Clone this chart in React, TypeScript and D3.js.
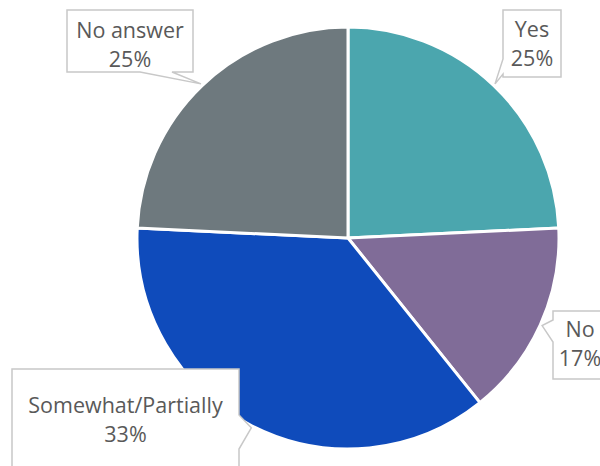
import React from "react";
import * as d3 from "d3";

const categories = ["Yes", "No", "Somewhat/Partially", "No answer"];
const sliceValues = [24.25, 15.0, 36.5, 24.25];
const percentLabels = ["25%", "17%", "33%", "25%"];
const colors = ["#4ba6ae", "#806c98", "#0f4bbb", "#6e797e"];

const W = 600;
const H = 466;
const CX = 348;
const CY = 238;
const R = 211;

// callout layout: box rect, pointer side and base span, text baselines
type Callout = {
  x: number; y: number; w: number; h: number;
  side: "left" | "right" | "bottom";
  b0: number; b1: number;
  tx: number; ty: number;
};
const callouts: Callout[] = [
  { x: 503, y: 10, w: 58, h: 67, side: "left", b0: 59, b1: 74, tx: 532, ty: 37 },
  { x: 553, y: 311, w: 56, h: 68, side: "left", b0: 320, b1: 342, tx: 580, ty: 337 },
  { x: 12, y: 369, w: 227, h: 110, side: "right", b0: 415, b1: 449, tx: 125.5, ty: 413 },
  { x: 67, y: 10, w: 126, h: 62, side: "bottom", b0: 140, b1: 172, tx: 130, ty: 38 },
];

function calloutPath(c: Callout, tip: [number, number]) {
  const x0 = c.x, y0 = c.y, x1 = c.x + c.w, y1 = c.y + c.h;
  const p = d3.path();
  p.moveTo(x0, y0);
  p.lineTo(x1, y0);
  if (c.side === "right") {
    p.lineTo(x1, c.b0);
    p.lineTo(tip[0], tip[1]);
    p.lineTo(x1, c.b1);
  }
  p.lineTo(x1, y1);
  if (c.side === "bottom") {
    p.lineTo(c.b1, y1);
    p.lineTo(tip[0], tip[1]);
    p.lineTo(c.b0, y1);
  }
  p.lineTo(x0, y1);
  if (c.side === "left") {
    p.lineTo(x0, c.b1);
    p.lineTo(tip[0], tip[1]);
    p.lineTo(x0, c.b0);
  }
  p.closePath();
  return p.toString();
}

export default function App() {
  const pie = d3.pie<number>().sort(null).value((d) => d);
  const arcs = pie(sliceValues);
  const arc = d3.arc<d3.PieArcDatum<number>>().innerRadius(0).outerRadius(R);

  return (
    <svg
      width={W}
      height={H}
      style={{ position: "absolute", left: 0, top: 0, background: "#fff" }}
      fontFamily="'Open Sans', sans-serif"
    >
      <g transform={`translate(${CX},${CY})`}>
        {arcs.map((a, i) => (
          <path key={i} d={arc(a) || ""} fill={colors[i]} stroke="#fff" strokeWidth={3} strokeLinejoin="round" />
        ))}
      </g>
      {arcs.map((a, i) => {
        const c = callouts[i];
        const mid = (a.startAngle + a.endAngle) / 2;
        const rr = R + 2;
        const tip: [number, number] = [CX + rr * Math.sin(mid), CY - rr * Math.cos(mid)];
        return (
          <g key={i}>
            <path d={calloutPath(c, tip)} fill="#fff" stroke="#c8c8c8" strokeWidth={1.5} />
            <text x={c.tx} y={c.ty} textAnchor="middle" fontSize={21.5} fill="#595959">
              {categories[i]}
            </text>
            <text x={c.tx} y={c.ty + 29} textAnchor="middle" fontSize={21.5} fill="#595959">
              {percentLabels[i]}
            </text>
          </g>
        );
      })}
    </svg>
  );
}
